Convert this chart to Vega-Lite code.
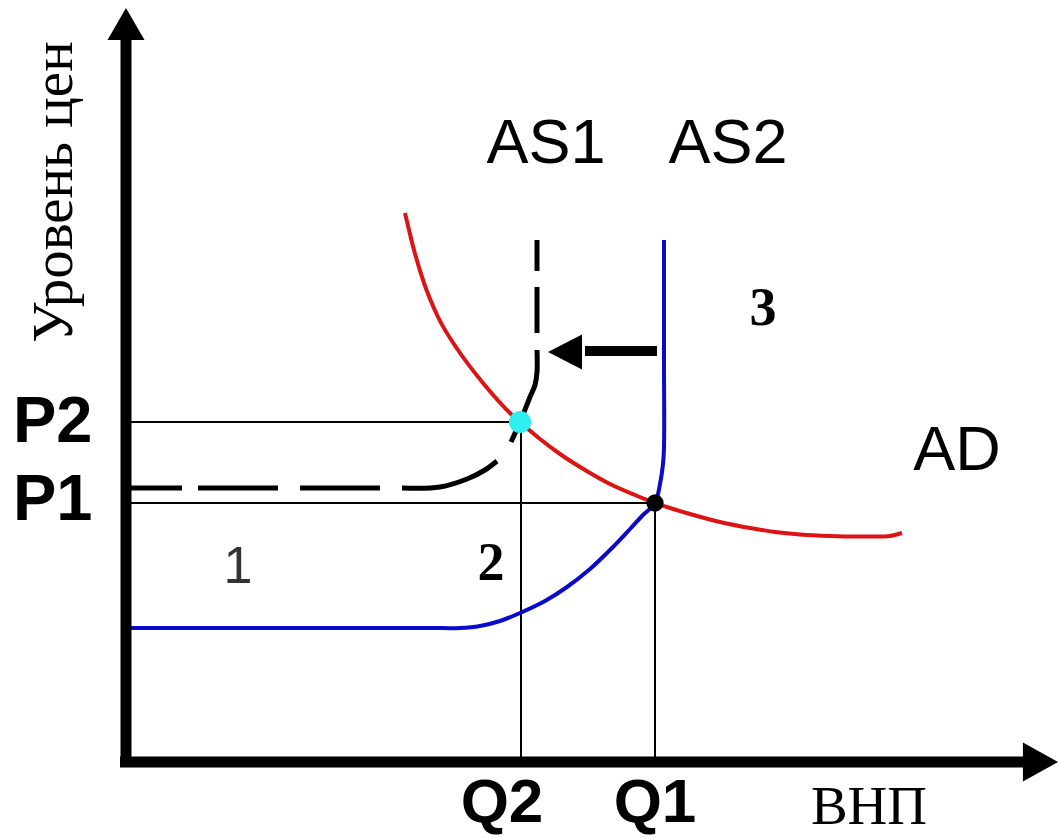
{
  "$schema": "https://vega.github.io/schema/vega-lite/v6.json",
  "width": 1059,
  "height": 838,
  "autosize": "none",
  "padding": 0,
  "background": "white",
  "config": {"view": {"stroke": null}},
  "datasets": {
    "axes": [
      {"name": "price", "x": 0, "y": -0.5, "x2": 0, "y2": 72.4},
      {"name": "gnp", "x": -0.6, "y": 0, "x2": 89.9, "y2": 0}
    ],
    "axisHeads": [
      {"name": "up", "x": 0, "y": 73.8},
      {"name": "right", "x": 91.45, "y": 0}
    ],
    "guides": [
      {"name": "P2", "x": 0, "y": 34.0, "x2": 39.4, "y2": 34.0},
      {"name": "P1", "x": 0, "y": 25.9, "x2": 52.9, "y2": 25.9},
      {"name": "Q2", "x": 39.5, "y": 0, "x2": 39.5, "y2": 34.0},
      {"name": "Q1", "x": 52.9, "y": 0, "x2": 52.9, "y2": 25.9}
    ],
    "shift": [
      {"x": 45.9, "y": 41.1, "x2": 53.1, "y2": 41.1}
    ],
    "shiftHead": [
      {"x": 43.9, "y": 41.0}
    ],
    "AD": [
      {"i": 0, "x": 27.9, "y": 54.9},
      {"i": 1, "x": 28.8, "y": 51.2},
      {"i": 2, "x": 29.8, "y": 47.9},
      {"i": 3, "x": 31.2, "y": 44.5},
      {"i": 4, "x": 33.2, "y": 41.2},
      {"i": 5, "x": 35.7, "y": 37.9},
      {"i": 6, "x": 38.4, "y": 34.9},
      {"i": 7, "x": 39.4, "y": 34.0},
      {"i": 8, "x": 41.4, "y": 32.3},
      {"i": 9, "x": 43.4, "y": 30.8},
      {"i": 10, "x": 45.9, "y": 29.2},
      {"i": 11, "x": 48.4, "y": 27.8},
      {"i": 12, "x": 50.9, "y": 26.7},
      {"i": 13, "x": 52.9, "y": 25.9},
      {"i": 14, "x": 54.1, "y": 25.5},
      {"i": 15, "x": 56.4, "y": 24.8},
      {"i": 16, "x": 59.4, "y": 24.0},
      {"i": 17, "x": 62.4, "y": 23.4},
      {"i": 18, "x": 64.9, "y": 23.0},
      {"i": 19, "x": 67.4, "y": 22.75},
      {"i": 20, "x": 70.4, "y": 22.6},
      {"i": 21, "x": 73.4, "y": 22.55},
      {"i": 22, "x": 75.9, "y": 22.55},
      {"i": 23, "x": 77.6, "y": 22.9}
    ],
    "AS2": [
      {"i": 0, "x": 0.4, "y": 13.4},
      {"i": 1, "x": 20.0, "y": 13.4},
      {"i": 2, "x": 30.4, "y": 13.4},
      {"i": 3, "x": 33.4, "y": 13.4},
      {"i": 4, "x": 35.4, "y": 13.6},
      {"i": 5, "x": 37.4, "y": 14.1},
      {"i": 6, "x": 39.4, "y": 14.9},
      {"i": 7, "x": 41.9, "y": 16.1},
      {"i": 8, "x": 44.1, "y": 17.5},
      {"i": 9, "x": 46.4, "y": 19.3},
      {"i": 10, "x": 48.7, "y": 21.5},
      {"i": 11, "x": 50.4, "y": 23.3},
      {"i": 12, "x": 51.6, "y": 24.6},
      {"i": 13, "x": 52.9, "y": 25.9},
      {"i": 14, "x": 53.4, "y": 27.8},
      {"i": 15, "x": 53.7, "y": 29.8},
      {"i": 16, "x": 53.8, "y": 31.5},
      {"i": 17, "x": 53.8, "y": 40.0},
      {"i": 18, "x": 53.8, "y": 52.2}
    ],
    "AS1": [
      {"seg": 1, "i": 0, "x": 0.4, "y": 27.4},
      {"seg": 1, "i": 1, "x": 5.6, "y": 27.4},
      {"seg": 2, "i": 0, "x": 7.2, "y": 27.4},
      {"seg": 2, "i": 1, "x": 15.2, "y": 27.4},
      {"seg": 3, "i": 0, "x": 17.4, "y": 27.4},
      {"seg": 3, "i": 1, "x": 25.4, "y": 27.4},
      {"seg": 4, "i": 0, "x": 27.6, "y": 27.4},
      {"seg": 4, "i": 1, "x": 31.4, "y": 27.5},
      {"seg": 4, "i": 2, "x": 34.1, "y": 28.3},
      {"seg": 4, "i": 3, "x": 35.9, "y": 29.2},
      {"seg": 4, "i": 4, "x": 37.1, "y": 30.1},
      {"seg": 5, "i": 0, "x": 38.5, "y": 32.0},
      {"seg": 5, "i": 1, "x": 39.4, "y": 34.0},
      {"seg": 5, "i": 2, "x": 40.4, "y": 36.5},
      {"seg": 5, "i": 3, "x": 40.9, "y": 37.7},
      {"seg": 5, "i": 4, "x": 41.1, "y": 39.0},
      {"seg": 5, "i": 5, "x": 41.1, "y": 41.2},
      {"seg": 6, "i": 0, "x": 41.1, "y": 42.9},
      {"seg": 6, "i": 1, "x": 41.1, "y": 47.5},
      {"seg": 7, "i": 0, "x": 41.1, "y": 49.1},
      {"seg": 7, "i": 1, "x": 41.1, "y": 52.2}
    ],
    "newEq": [{"x": 39.4, "y": 34.0}],
    "oldEq": [{"x": 52.9, "y": 25.9}],
    "sansLabels": [
      {"text": "AS1", "x": 42.0, "y": 59.9},
      {"text": "AS2", "x": 60.2, "y": 59.9},
      {"text": "AD", "x": 83.1, "y": 29.2}
    ],
    "boldLeft": [
      {"text": "P2", "x": -11.3, "y": 32.0},
      {"text": "P1", "x": -11.3, "y": 24.2}
    ],
    "boldCenter": [
      {"text": "Q2", "x": 37.6, "y": -6.0},
      {"text": "Q1", "x": 52.9, "y": -6.0}
    ],
    "thinLabels": [
      {"text": "1", "x": 11.2, "y": 17.9}
    ],
    "serifBold": [
      {"text": "2", "x": 36.5, "y": 18.2},
      {"text": "3", "x": 63.7, "y": 43.7}
    ],
    "serifLabels": [
      {"text": "ВНП", "x": 74.3, "y": -6.2}
    ],
    "yTitle": [
      {"text": "Уровень цен", "x": -5.4, "y": 57.0}
    ]
  },
  "encoding": {
    "x": {"field": "x", "type": "quantitative", "scale": {"domain": [-12.6, 93.3], "nice": false, "zero": false}, "axis": null},
    "y": {"field": "y", "type": "quantitative", "scale": {"domain": [-7.6, 76.2], "nice": false, "zero": false}, "axis": null}
  },
  "layer": [
    {
      "data": {"name": "guides"},
      "mark": {"type": "rule", "color": "black", "strokeWidth": 2},
      "encoding": {"x2": {"field": "x2"}, "y2": {"field": "y2"}}
    },
    {
      "data": {"name": "AS2"},
      "mark": {"type": "line", "color": "#0a0acc", "strokeWidth": 4, "interpolate": "catmull-rom"},
      "encoding": {"order": {"field": "i", "type": "quantitative"}}
    },
    {
      "data": {"name": "AD"},
      "mark": {"type": "line", "color": "#dd1414", "strokeWidth": 4, "interpolate": "monotone"},
      "encoding": {"order": {"field": "i", "type": "quantitative"}}
    },
    {
      "data": {"name": "AS1"},
      "mark": {"type": "line", "color": "black", "strokeWidth": 5, "strokeCap": "butt", "interpolate": "catmull-rom"},
      "encoding": {"detail": {"field": "seg", "type": "nominal"}, "order": {"field": "i", "type": "quantitative"}}
    },
    {
      "data": {"name": "shift"},
      "mark": {"type": "rule", "color": "black", "strokeWidth": 10, "strokeCap": "butt"},
      "encoding": {"x2": {"field": "x2"}, "y2": {"field": "y2"}}
    },
    {
      "data": {"name": "shiftHead"},
      "mark": {"type": "point", "shape": "M0.97,-1L0.97,1L-0.97,0Z", "size": 1225, "filled": true, "color": "black", "opacity": 1}
    },
    {
      "data": {"name": "axes"},
      "mark": {"type": "rule", "color": "black", "strokeWidth": 11, "strokeCap": "butt"},
      "encoding": {"x2": {"field": "x2"}, "y2": {"field": "y2"}}
    },
    {
      "data": {"name": "axisHeads"},
      "transform": [{"filter": "datum.name === 'up'"}],
      "mark": {"type": "point", "shape": "M-1,0.86L1,0.86L0,-0.86Z", "size": 1369, "filled": true, "color": "black", "opacity": 1}
    },
    {
      "data": {"name": "axisHeads"},
      "transform": [{"filter": "datum.name === 'right'"}],
      "mark": {"type": "point", "shape": "M-0.9,-1L0.9,0L-0.9,1Z", "size": 1521, "filled": true, "color": "black", "opacity": 1}
    },
    {
      "data": {"name": "newEq"},
      "mark": {"type": "circle", "size": 490, "color": "#30eeee", "opacity": 1}
    },
    {
      "data": {"name": "oldEq"},
      "mark": {"type": "circle", "size": 300, "color": "black", "opacity": 1}
    },
    {
      "data": {"name": "sansLabels"},
      "mark": {"type": "text", "font": "Liberation Sans", "fontSize": 63, "align": "center", "baseline": "alphabetic", "color": "black"},
      "encoding": {"text": {"field": "text"}}
    },
    {
      "data": {"name": "boldLeft"},
      "mark": {"type": "text", "font": "Liberation Sans", "fontWeight": "bold", "fontSize": 65, "align": "left", "baseline": "alphabetic", "color": "black"},
      "encoding": {"text": {"field": "text"}}
    },
    {
      "data": {"name": "boldCenter"},
      "mark": {"type": "text", "font": "Liberation Sans", "fontWeight": "bold", "fontSize": 62, "align": "center", "baseline": "alphabetic", "color": "black"},
      "encoding": {"text": {"field": "text"}}
    },
    {
      "data": {"name": "thinLabels"},
      "mark": {"type": "text", "font": "Liberation Sans", "fontSize": 52, "align": "center", "baseline": "alphabetic", "color": "#333333"},
      "encoding": {"text": {"field": "text"}}
    },
    {
      "data": {"name": "serifBold"},
      "mark": {"type": "text", "font": "Liberation Serif", "fontWeight": "bold", "fontSize": 54, "align": "center", "baseline": "alphabetic", "color": "black"},
      "encoding": {"text": {"field": "text"}}
    },
    {
      "data": {"name": "serifLabels"},
      "mark": {"type": "text", "font": "Liberation Serif", "fontSize": 55, "align": "center", "baseline": "alphabetic", "color": "black"},
      "encoding": {"text": {"field": "text"}}
    },
    {
      "data": {"name": "yTitle"},
      "mark": {"type": "text", "font": "Liberation Serif", "fontSize": 57, "angle": 270, "align": "center", "baseline": "alphabetic", "color": "black"},
      "encoding": {"text": {"field": "text"}}
    }
  ]
}
